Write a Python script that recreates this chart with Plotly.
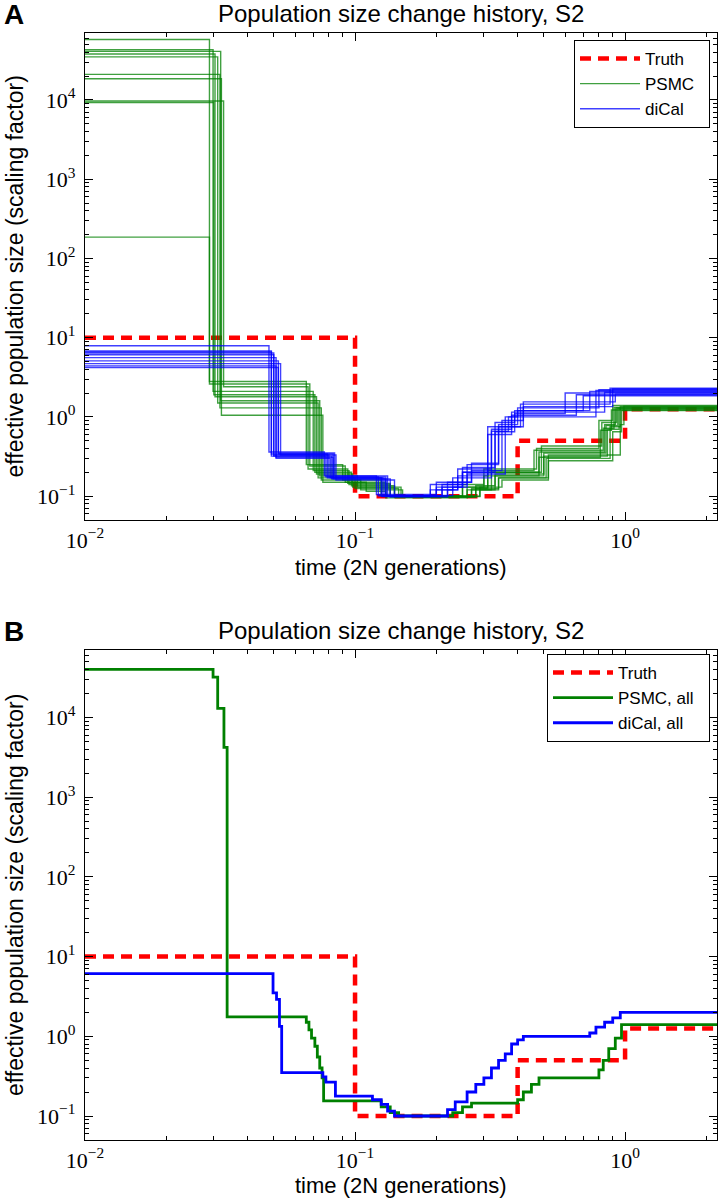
import plotly.graph_objects as go

# ---------------------------------------------------------------------------
# Data
# ---------------------------------------------------------------------------
X_MAX = 2.19

truth_times = [0.01, 0.1, 0.4, 1.0]
truth_sizes = [10, 0.1, 0.5, 1.25]

# Panel A: individual PSMC runs (change points and sizes, step functions)
psmc_run_times = [
    [0.01, 0.0289, 0.068, 0.092, 0.130, 0.26, 0.31, 0.48, 0.84, 0.92],
    [0.01, 0.0298, 0.070, 0.095, 0.135, 0.27, 0.33, 0.50, 0.86, 0.95],
    [0.01, 0.0303, 0.072, 0.098, 0.140, 0.28, 0.34, 0.51, 0.88, 0.96],
    [0.01, 0.0310, 0.073, 0.100, 0.145, 0.25, 0.30, 0.47, 0.80, 0.90],
    [0.01, 0.0316, 0.075, 0.105, 0.150, 0.29, 0.35, 0.52, 0.90, 0.97],
    [0.01, 0.0320, 0.076, 0.110, 0.130, 0.26, 0.32, 0.49, 0.82, 0.93],
    [0.01, 0.0326, 0.067, 0.094, 0.135, 0.28, 0.33, 0.50, 0.85, 0.94],
    [0.01, 0.0300, 0.071, 0.097, 0.140, 0.27, 0.31, 0.46, 0.83, 0.91],
    [0.01, 0.0289, 0.066, 0.090, 0.125, 0.25, 0.30, 0.48, 0.81, 0.89],
    [0.01, 0.0318, 0.074, 0.102, 0.148, 0.29, 0.34, 0.52, 0.96, 0.99],
]
psmc_run_sizes = [
    [58000, 2.6, 0.24, 0.15, 0.100, 0.130, 0.20, 0.36, 0.80, 1.30],
    [43000, 2.1, 0.21, 0.14, 0.098, 0.120, 0.18, 0.32, 0.70, 1.25],
    [38000, 1.8, 0.19, 0.13, 0.097, 0.125, 0.17, 0.30, 0.75, 1.35],
    [35000, 1.5, 0.17, 0.125, 0.100, 0.140, 0.22, 0.40, 0.90, 1.40],
    [21000, 1.3, 0.16, 0.12, 0.100, 0.130, 0.16, 0.28, 0.65, 1.20],
    [18500, 1.05, 0.15, 0.115, 0.095, 0.120, 0.20, 0.43, 0.85, 1.30],
    [9700, 2.4, 0.22, 0.145, 0.100, 0.135, 0.19, 0.35, 0.78, 1.28],
    [9300, 1.9, 0.20, 0.135, 0.098, 0.125, 0.21, 0.38, 0.72, 1.33],
    [186, 2.8, 0.25, 0.16, 0.100, 0.130, 0.18, 0.31, 0.68, 1.22],
    [41000, 1.6, 0.18, 0.13, 0.099, 0.120, 0.17, 0.33, 0.80, 1.37],
]

# Panel A: individual diCal runs
dical_run_times = [
    [0.01, 0.048, 0.077, 0.120, 0.20, 0.24, 0.32, 0.38, 0.66],
    [0.01, 0.049, 0.079, 0.125, 0.21, 0.25, 0.33, 0.39, 0.74],
    [0.01, 0.050, 0.080, 0.130, 0.19, 0.26, 0.34, 0.40, 0.80],
    [0.01, 0.050, 0.082, 0.135, 0.22, 0.24, 0.31, 0.41, 0.88],
    [0.01, 0.051, 0.083, 0.128, 0.20, 0.27, 0.35, 0.42, 0.92],
    [0.01, 0.052, 0.084, 0.132, 0.23, 0.26, 0.36, 0.40, 0.70],
    [0.01, 0.053, 0.085, 0.140, 0.21, 0.25, 0.33, 0.39, 0.60],
    [0.01, 0.051, 0.081, 0.126, 0.19, 0.23, 0.32, 0.37, 0.78],
    [0.01, 0.052, 0.083, 0.130, 0.22, 0.27, 0.34, 0.42, 0.90],
    [0.01, 0.049, 0.078, 0.122, 0.20, 0.25, 0.31, 0.38, 0.84],
]
dical_run_sizes = [
    [7.9, 0.36, 0.180, 0.105, 0.12, 0.22, 0.70, 1.05, 1.90],
    [6.8, 0.34, 0.170, 0.100, 0.13, 0.20, 0.65, 1.20, 2.10],
    [6.4, 0.33, 0.175, 0.100, 0.14, 0.25, 0.80, 1.30, 2.20],
    [6.1, 0.32, 0.165, 0.098, 0.12, 0.18, 0.75, 1.45, 2.30],
    [5.6, 0.31, 0.170, 0.100, 0.15, 0.21, 0.90, 1.55, 1.95],
    [5.1, 0.35, 0.180, 0.102, 0.13, 0.19, 1.00, 1.20, 1.85],
    [4.7, 0.33, 0.160, 0.100, 0.14, 0.23, 0.85, 1.10, 2.00],
    [4.4, 0.30, 0.170, 0.099, 0.12, 0.17, 0.66, 1.00, 2.15],
    [4.2, 0.34, 0.165, 0.100, 0.15, 0.26, 0.75, 1.35, 2.25],
    [6.6, 0.32, 0.175, 0.101, 0.13, 0.20, 0.60, 1.15, 2.05],
]

# Panel B: combined estimates
psmc_all_times = [0.01, 0.0298, 0.031, 0.0327, 0.0336, 0.066, 0.0675, 0.069,
                  0.071, 0.0725, 0.074, 0.0755, 0.0765, 0.125, 0.135, 0.145,
                  0.23, 0.25, 0.27, 0.40, 0.42, 0.45, 0.48, 0.80, 0.83, 0.87,
                  0.92, 0.97]
psmc_all_sizes = [40000, 32000, 13000, 4200, 1.75, 1.5, 1.2, 0.95,
                  0.75, 0.55, 0.40, 0.30, 0.155, 0.13, 0.11, 0.10,
                  0.11, 0.13, 0.145, 0.16, 0.20, 0.25, 0.30, 0.38, 0.50, 0.70,
                  0.95, 1.40]

dical_all_times = [0.01, 0.0497, 0.0512, 0.0525, 0.0535, 0.076, 0.078, 0.0846,
                   0.116, 0.125, 0.132, 0.14, 0.22, 0.235, 0.26, 0.28, 0.30,
                   0.32, 0.34, 0.36, 0.38, 0.40, 0.42, 0.74, 0.78, 0.84, 0.90,
                   0.96]
dical_all_sizes = [6.1, 3.5, 2.9, 1.33, 0.35, 0.31, 0.266, 0.178,
                   0.16, 0.14, 0.115, 0.10, 0.12, 0.15, 0.20, 0.25, 0.30,
                   0.40, 0.50, 0.60, 0.80, 0.90, 1.00, 1.10, 1.30, 1.50, 1.70,
                   2.00]

x_major = [0.01, 0.1, 1]
x_major_text = ["10<sup>−2</sup>", "10<sup>−1</sup>", "10<sup>0</sup>"]
y_major = [0.1, 1, 10, 100, 1000, 10000]
y_major_text = ["10<sup>−1</sup>", "10<sup>0</sup>", "10<sup>1</sup>",
                "10<sup>2</sup>", "10<sup>3</sup>", "10<sup>4</sup>"]

TITLE = "Population size change history, S2"
X_TITLE = "time (2N generations)"
Y_TITLE = "effective population size (scaling factor)"

# ---------------------------------------------------------------------------
# Helpers
# ---------------------------------------------------------------------------
W, H = 718, 1198
SANS = "Liberation Sans, Arial, sans-serif"
SERIF = "Liberation Serif, DejaVu Serif, serif"
PAD = "\u00a0\u00a0"   # keeps legend text clear of the frame


def step_xy(times, sizes):
    return list(times) + [X_MAX], list(sizes) + [sizes[-1]]


def minor_vals(lo_exp, hi_exp):
    vals = []
    for e in range(lo_exp, hi_exp + 1):
        for m in range(2, 10):
            vals.append(m * 10 ** e)
    return vals


def py(px):
    """pixel row -> paper y"""
    return 1 - px / H


fig = go.Figure()

TRUTH_LINE = dict(color="#ff0000", width=4.5, dash="11px,7px")

# Panel A
tx, ty = step_xy(truth_times, truth_sizes)
fig.add_trace(go.Scatter(x=tx, y=ty, mode="lines", line_shape="hv", name="Truth" + PAD,
                         line=TRUTH_LINE, xaxis="x", yaxis="y", legend="legend"))
for i, (t, s) in enumerate(zip(psmc_run_times, psmc_run_sizes)):
    px_, py_ = step_xy(t, s)
    fig.add_trace(go.Scatter(x=px_, y=py_, mode="lines", line_shape="hv",
                             name="PSMC" + PAD, showlegend=(i == 0), legendgroup="psmc",
                             line=dict(color="rgba(0,128,0,0.75)", width=1.4),
                             xaxis="x", yaxis="y", legend="legend"))
for i, (t, s) in enumerate(zip(dical_run_times, dical_run_sizes)):
    dx, dy = step_xy(t, s)
    fig.add_trace(go.Scatter(x=dx, y=dy, mode="lines", line_shape="hv",
                             name="diCal" + PAD, showlegend=(i == 0), legendgroup="dical",
                             line=dict(color="rgba(0,0,255,0.75)", width=1.4),
                             xaxis="x", yaxis="y", legend="legend"))

# Panel B
fig.add_trace(go.Scatter(x=tx, y=ty, mode="lines", line_shape="hv", name="Truth" + PAD,
                         line=TRUTH_LINE, xaxis="x2", yaxis="y2", legend="legend2"))
px_, py_ = step_xy(psmc_all_times, psmc_all_sizes)
fig.add_trace(go.Scatter(x=px_, y=py_, mode="lines", line_shape="hv",
                         name="PSMC, all" + PAD,
                         line=dict(color="#008000", width=2.8),
                         xaxis="x2", yaxis="y2", legend="legend2"))
dx, dy = step_xy(dical_all_times, dical_all_sizes)
fig.add_trace(go.Scatter(x=dx, y=dy, mode="lines", line_shape="hv",
                         name="diCal, all" + PAD,
                         line=dict(color="#0000ff", width=2.8),
                         xaxis="x2", yaxis="y2", legend="legend2"))

# ---------------------------------------------------------------------------
# Axes
# ---------------------------------------------------------------------------
X_LEFT, X_RIGHT = 85, 717
panel_rows = [(33, 520), (650, 1140)]   # (top, bottom) pixel rows of each panel
title_rows = [14, 630]
xlabel_rows = [567, 1185]
Y_RANGE = [-1.301, 4.845]
X_RANGE = [-2, 0.3404]

axis_common = dict(
    type="log", showgrid=False, zeroline=False, showline=True, automargin=False,
    linecolor="black", linewidth=1.2, mirror="allticks",
    ticks="inside", ticklen=8, tickwidth=1, tickcolor="black",
    tickfont=dict(family=SERIF, size=22, color="black"),
)

layout_axes = {}
annotations = []
for k, (top, bottom) in enumerate(panel_rows):
    sx = "" if k == 0 else "2"
    layout_axes["xaxis" + sx] = dict(
        axis_common, domain=[X_LEFT / W, X_RIGHT / W], range=X_RANGE,
        anchor="y" + sx, tickmode="array", tickvals=x_major, ticktext=x_major_text,
        minor=dict(ticks="inside", ticklen=4, tickcolor="black",
                   tickvals=minor_vals(-2, 0)),
        ticklabelstandoff=0,
    )
    layout_axes["yaxis" + sx] = dict(
        axis_common, domain=[py(bottom), py(top)], range=Y_RANGE,
        anchor="x" + sx, tickmode="array", tickvals=y_major, ticktext=y_major_text,
        minor=dict(ticks="inside", ticklen=4, tickcolor="black",
                   tickvals=minor_vals(-2, 4)),
        ticklabelstandoff=4,
    )
    annotations += [
        dict(text=TITLE, x=(X_LEFT + X_RIGHT) / 2 / W, y=py(title_rows[k]),
             xanchor="center", yanchor="middle",
             font=dict(family=SANS, size=24, color="black")),
        dict(text=X_TITLE, x=(X_LEFT + X_RIGHT) / 2 / W, y=py(xlabel_rows[k]),
             xanchor="center", yanchor="middle",
             font=dict(family=SANS, size=22, color="black")),
        dict(text=Y_TITLE, x=15 / W, y=py((top + bottom) / 2), textangle=-90,
             xanchor="center", yanchor="middle",
             font=dict(family=SANS, size=23, color="black")),
        dict(text="<b>%s</b>" % "AB"[k], x=2 / W, y=py(title_rows[k] + 1),
             xanchor="left", yanchor="middle",
             font=dict(family=SANS, size=28, color="black")),
    ]

for a in annotations:
    a.update(xref="paper", yref="paper", showarrow=False)

legend_common = dict(
    xanchor="right", yanchor="top", bgcolor="white",
    bordercolor="black", borderwidth=1,
    font=dict(family=SANS, size=17, color="black"),
    tracegroupgap=0, itemwidth=60,
)

fig.update_layout(
    width=W, height=H,
    margin=dict(l=0, r=0, t=0, b=0),
    paper_bgcolor="white", plot_bgcolor="white",
    legend=dict(legend_common, x=710 / W, y=py(40)),
    legend2=dict(legend_common, x=710 / W, y=py(654)),
    annotations=annotations,
    **layout_axes,
)

# drop the browser's default body margin so the figure fills the window exactly
fig.write_html("out.html", config={"displayModeBar": False},
               post_script="document.body.style.margin = '0px';")
